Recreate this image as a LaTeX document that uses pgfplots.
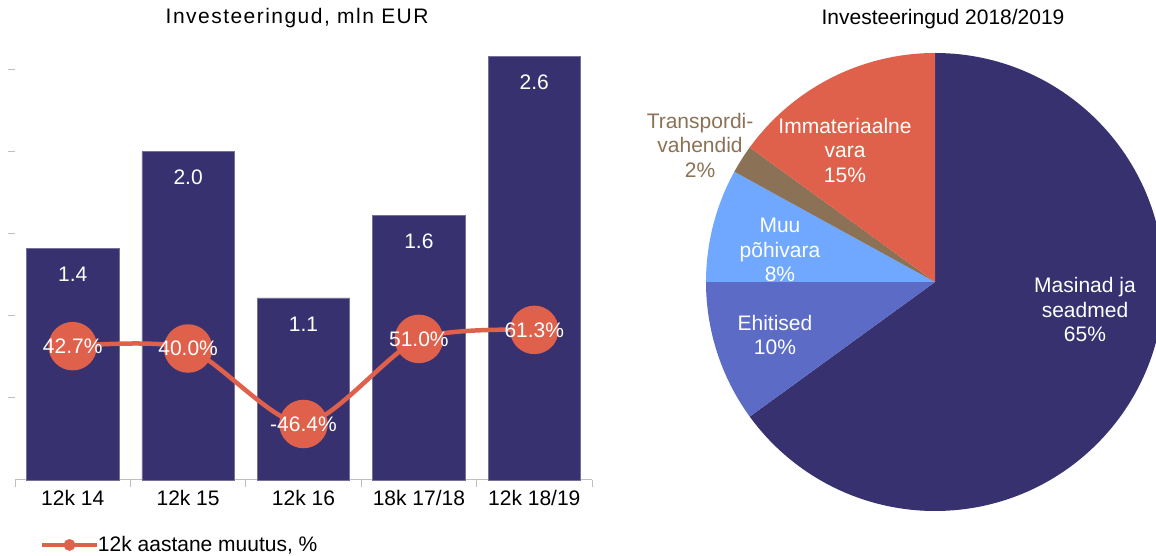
\documentclass[border=0pt]{standalone}
\usepackage{pgfplots}
\pgfplotsset{compat=1.18}
\usepackage{fontspec}
\setmainfont{Liberation Sans}
\definecolor{navy}{HTML}{37326F}
\definecolor{coral}{HTML}{DF604B}
\definecolor{midblue}{HTML}{5C6BC6}
\definecolor{lightblue}{HTML}{70A8FF}
\definecolor{brownc}{HTML}{8B7155}
\definecolor{axisgray}{HTML}{BFBFBF}
\begin{document}
\begin{tikzpicture}[font=\fontsize{21bp}{24.5bp}\selectfont]
\path[use as bounding box] (0,0) rectangle (1156bp,556bp);
% ---------- bars ----------
\begin{axis}[
  at={(15bp,76bp)}, anchor=south west,
  width=577bp, height=430bp, scale only axis,
  xmin=-0.5, xmax=4.5, ymin=0, ymax=2.62,
  axis lines*=left,
  y axis line style={draw=none},
  x axis line style={draw=axisgray, line width=1bp},
  xtick={-0.5,0.5,1.5,2.5,3.5,4.5},
  x tick label as interval,
  xticklabels={12k 14,12k 15,12k 16,18k 17/18,12k 18/19},
  ytick={0.5,1,1.5,2,2.5}, yticklabels={},
  tick style={draw=axisgray, line width=1bp},
  major tick length=7bp,
  tick align=outside,
  clip=false,
  title={Investeeringud, mln EUR},
  title style={at={(axis description cs:0.489,1.060)}, anchor=center,
    font=\fontsize{21bp}{24.5bp}\selectfont\addfontfeature{LetterSpace=7}},
]
\addplot[ybar, bar width=0.8, fill=navy, draw=navy!70!white, line width=0.6bp,
  nodes near coords={\pgfplotspointmeta}, point meta=explicit symbolic,
  every node near coord/.append style={anchor=center, yshift=-26bp, text=white}]
  coordinates {(0,1.41)[1.4] (1,2.0)[2.0] (2,1.11)[1.1] (3,1.61)[1.6] (4,2.58)[2.6]};
\end{axis}
% ---------- line ----------
\begin{axis}[
  at={(15bp,76bp)}, anchor=south west,
  width=577bp, height=430bp, scale only axis,
  xmin=-0.5, xmax=4.5, ymin=-110.5, ymax=381.7,
  hide axis, clip=false,
  legend style={at={(axis description cs:0.0433,-0.151)}, anchor=west,
    draw=none, fill=none, inner sep=0pt, outer sep=0pt},
  legend cell align=left,
  legend image code/.code={%
    \draw[coral, line width=4bp] (0bp,0bp) -- (55bp,0bp);
    \fill[coral] (27.5bp,0bp) circle (3.5bp);},
]
\addplot[coral, line width=4.5bp, smooth, tension=0.45,
  mark=*, mark size=22bp, mark options={fill=coral, draw=none},
  nodes near coords={\pgfplotspointmeta}, point meta=explicit symbolic,
  every node near coord/.append style={anchor=center, text=white}]
  coordinates {(0,42.7)[42.7\%] (1,40.0)[40.0\%] (2,-46.4)[-46.4\%] (3,51.0)[51.0\%] (4,61.3)[61.3\%]};
\addlegendentry{\hspace{-3bp}12k aastane muutus, \%}
\end{axis}
% ---------- pie ----------
\begin{axis}[
  at={(935bp,274bp)}, anchor=center,
  width=458bp, height=458bp, scale only axis,
  xmin=-1, xmax=1, ymin=-1, ymax=1,
  hide axis, clip=false,
]
\fill[navy] (axis cs:0,0) -- ++(90:229bp) arc[start angle=90, delta angle=-65*3.6, radius=229bp] -- cycle;
\fill[midblue] (axis cs:0,0) -- ++(90-65*3.6:229bp) arc[start angle=90-65*3.6, delta angle=-10*3.6, radius=229bp] -- cycle;
\fill[lightblue] (axis cs:0,0) -- ++(90-75*3.6:229bp) arc[start angle=90-75*3.6, delta angle=-8*3.6, radius=229bp] -- cycle;
\fill[brownc] (axis cs:0,0) -- ++(90-83*3.6:229bp) arc[start angle=90-83*3.6, delta angle=-2*3.6, radius=229bp] -- cycle;
\fill[coral] (axis cs:0,0) -- ++(90-85*3.6:229bp) arc[start angle=90-85*3.6, delta angle=-15*3.6, radius=229bp] -- cycle;
\node[white, align=center] at (axis cs:0.655,-0.122) {Masinad ja\\seadmed\\65\%};
\node[white, align=center] at (axis cs:-0.699,-0.231) {Ehitised\\10\%};
\node[white, align=center] at (axis cs:-0.677,0.14) {Muu\\põhivara\\8\%};
\node[brownc, align=center] at (axis cs:-1.026,0.598) {Transpordi-\\vahendid\\2\%};
\node[white, align=center] at (axis cs:-0.393,0.576) {Immateriaalne\\vara\\15\%};
\node[black] at (axis cs:0.035,1.150) {Investeeringud 2018/2019};
\end{axis}
\end{tikzpicture}
\end{document}
